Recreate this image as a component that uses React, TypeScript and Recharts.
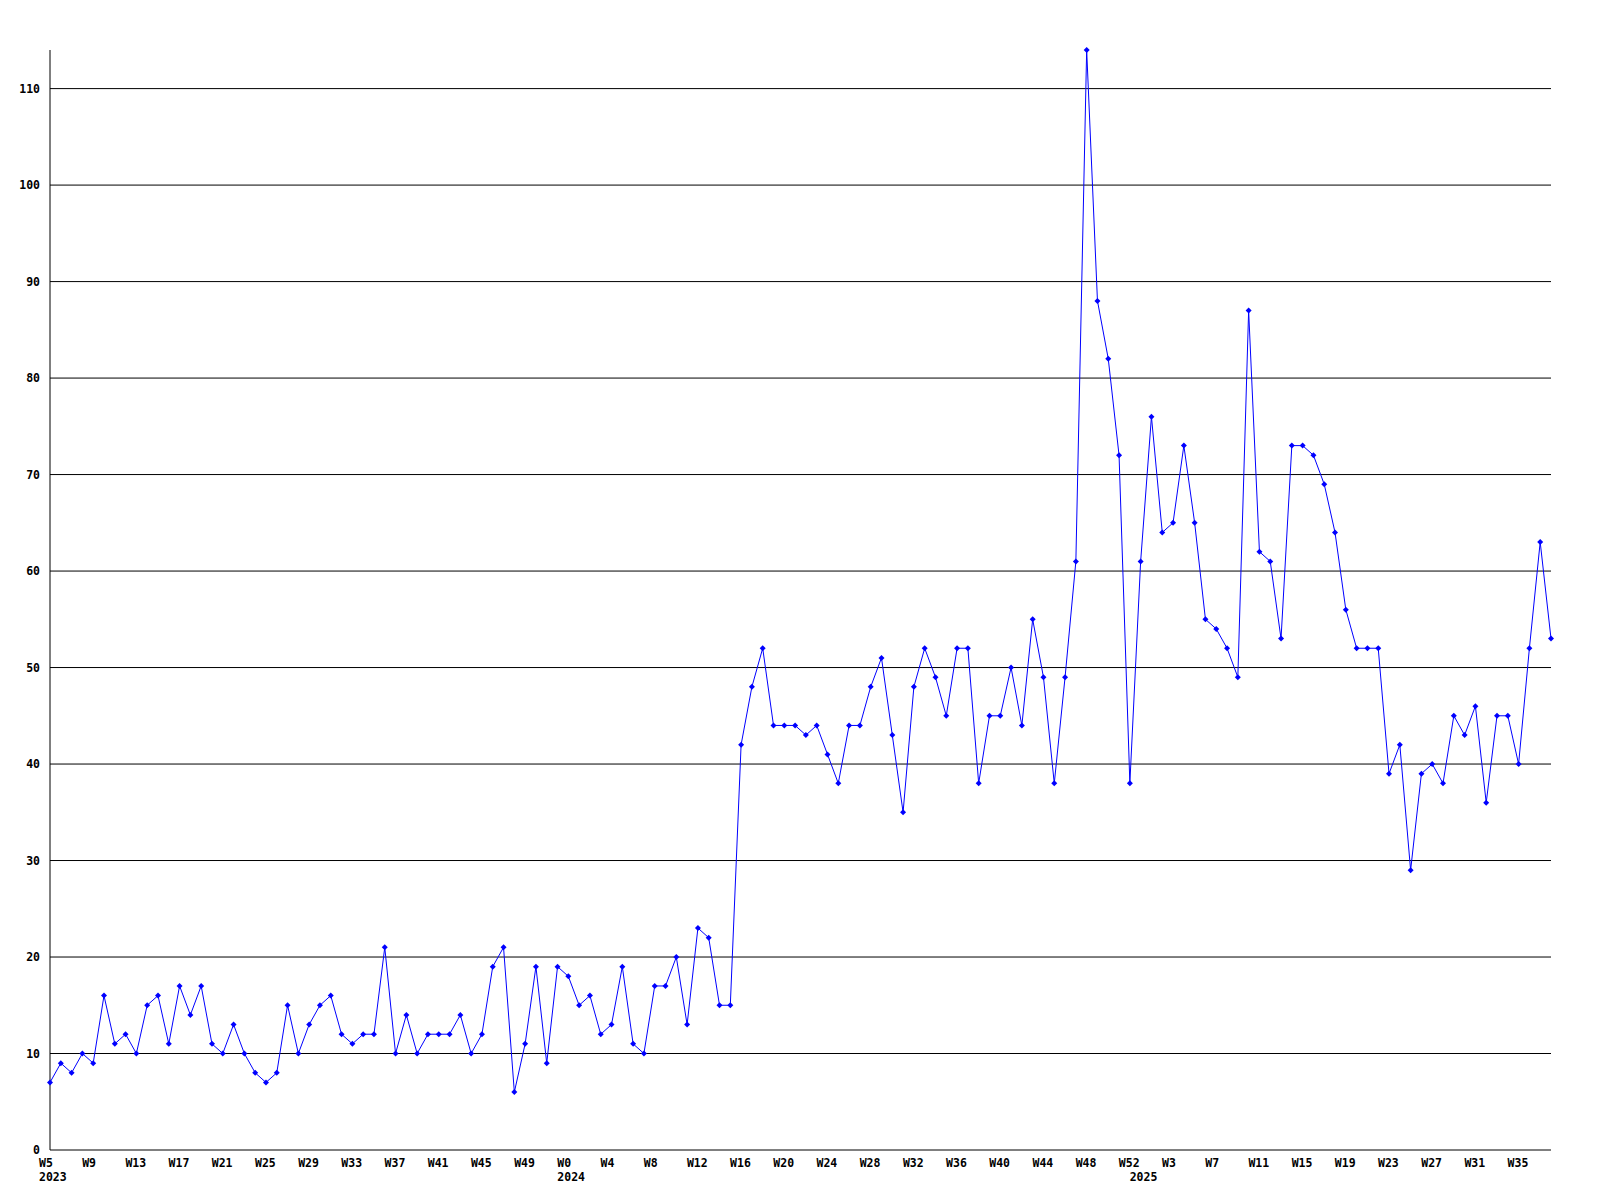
import React from 'react';
import { LineChart, Line, XAxis, YAxis, ReferenceLine } from 'recharts';

// weekly counts, 2023 W5 .. 2025 W38
const values2023 = [
  7, 9, 8, 10, 9, 16, 11, 12, 10, 15, 16, 11, 17, 14, 17, 11, 10, 13, 10, 8, 7, 8, 15, 10,
  13, 15, 16, 12, 11, 12, 12, 21, 10, 14, 10, 12, 12, 12, 14, 10, 12, 19, 21, 6, 11, 19, 9, 19,
];
const values2024 = [
  18, 15, 16, 12, 13, 19, 11, 10, 17, 17, 20, 13, 23, 22, 15, 15, 42, 48, 52, 44, 44, 44, 43, 44,
  41, 38, 44, 44, 48, 51, 43, 35, 48, 52, 49, 45, 52, 52, 38, 45, 45, 50, 44, 55, 49, 38, 49, 61,
  114, 88, 82, 72, 38,
];
const values2025 = [
  61, 76, 64, 65, 73, 65, 55, 54, 52, 49, 87, 62, 61, 53, 73, 73, 72, 69, 64, 56, 52, 52, 52, 39,
  42, 29, 39, 40, 38, 45, 43, 46, 36, 45, 45, 40, 52, 63, 53,
];

const years = [
  { year: '2023', firstWeek: 5, values: values2023 },
  { year: '2024', firstWeek: 0, values: values2024 },
  { year: '2025', firstWeek: 0, values: values2025 },
];

const yTicks = [0, 10, 20, 30, 40, 50, 60, 70, 80, 90, 100, 110];

const data = years.flatMap(y =>
  y.values.map((v, i) => ({
    key: `${y.year}-W${y.firstWeek + i}`,
    week: `W${y.firstWeek + i}`,
    year: i === 0 ? y.year : '',
    count: v,
  }))
);

const FONT = '"DejaVu Sans Mono", monospace';

const WeekTick = (props: any) => {
  const { x, y, index } = props;
  const d = data[index];
  if (!d) return null;
  return (
    <g>
      {index % 4 === 0 && (
        <text x={x - 11} y={y + 17} fontFamily={FONT} fontSize={11.5} fontWeight="bold" fill="#000">
          {d.week}
        </text>
      )}
      {d.year && (
        <text x={x - 11} y={y + 31} fontFamily={FONT} fontSize={11.5} fontWeight="bold" fill="#000">
          {d.year}
        </text>
      )}
    </g>
  );
};

const Marker = (props: any) => {
  const { cx, cy } = props;
  if (cx == null || cy == null) return null;
  return (
    <path
      d={`M${cx} ${cy - 3}L${cx + 3} ${cy}L${cx} ${cy + 3}L${cx - 3} ${cy}Z`}
      fill="#0000ff"
      stroke="none"
    />
  );
};

export default function App() {
  return (
    <div style={{ position: 'absolute', left: 0, top: 0, background: '#fff' }}>
      <LineChart
        width={1600}
        height={1200}
        data={data}
        margin={{ top: 50, right: 49, bottom: 0, left: 0 }}
      >
        <XAxis
          dataKey="key"
          interval={0}
          height={50}
          tickLine={false}
          tickSize={0}
          tickMargin={0}
          axisLine={{ stroke: '#000' }}
          tick={<WeekTick />}
        />
        <YAxis
          domain={[0, 114]}
          ticks={yTicks}
          width={50}
          tickLine={false}
          tickSize={0}
          tickMargin={10}
          axisLine={{ stroke: '#000' }}
          tick={{ fill: '#000', fontFamily: FONT, fontSize: 11.5, fontWeight: 'bold' }}
        />
        {yTicks.filter(t => t > 0).map(t => (
          <ReferenceLine key={t} y={t} stroke="#000" strokeWidth={1} />
        ))}
        <Line
          type="linear"
          dataKey="count"
          stroke="#0000ff"
          strokeWidth={1}
          dot={<Marker />}
          activeDot={false}
          isAnimationActive={false}
        />
      </LineChart>
    </div>
  );
}
